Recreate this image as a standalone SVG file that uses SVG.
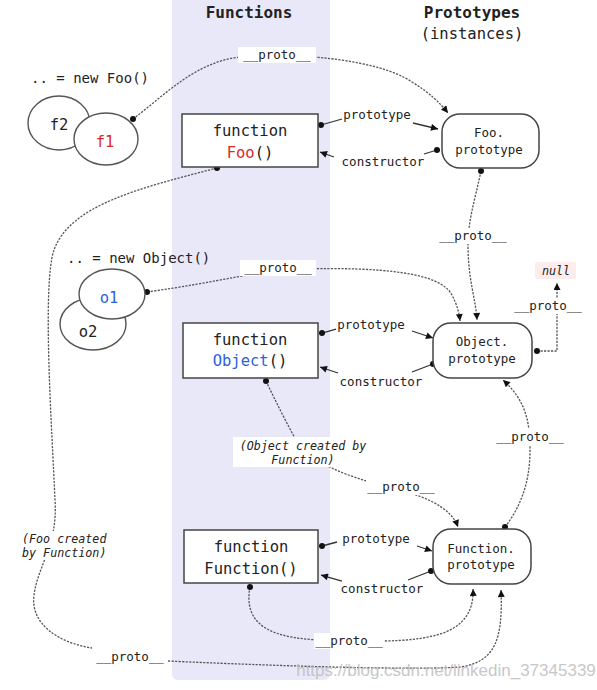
<svg xmlns="http://www.w3.org/2000/svg" width="597" height="690" viewBox="0 0 597 690">
<defs>
<marker id="arr" viewBox="0 0 10 10" refX="10" refY="5" markerWidth="9" markerHeight="7" orient="auto" markerUnits="userSpaceOnUse"><path d="M0,0 L10,5 L0,10 z" fill="#111"/></marker>
<marker id="dot" viewBox="0 0 6 6" refX="3" refY="3" markerWidth="6" markerHeight="6" markerUnits="userSpaceOnUse"><circle cx="3" cy="3" r="3" fill="#111"/></marker>
<style>
text{font-family:"DejaVu Sans Mono","Liberation Mono",monospace;fill:#222}
.hd{font-size:16px;font-weight:bold;text-anchor:middle}
.fn{font-size:15.5px;text-anchor:middle}
.pt{font-size:12.5px;text-anchor:middle}
.lb{font-size:12.5px;text-anchor:middle}
.it{font-size:11.7px;font-style:italic}
.box{fill:#fff;stroke:#444;stroke-width:1.5}
.ell{fill:#fff;stroke:#555;stroke-width:1.4}
.dash{fill:none;stroke:#555;stroke-width:1.3;stroke-dasharray:2.2 1.3}
.sol{fill:none;stroke:#333;stroke-width:1.3}
.bg{fill:#fff}
.red{fill:#e02828}
.blue{fill:#2f5fe0}
</style>
</defs>
<rect x="172" y="-10" width="158" height="690" rx="6" fill="#e8e8f9"/>
<text class="hd" x="249" y="18">Functions</text>
<text class="hd" x="472" y="18">Prototypes</text>
<text class="fn" x="472" y="39">(instances)</text>

<g id="connectors">
<path class="dash" d="M133,119 C165,95 195,62 240,57 C300,52 380,60 412,82 C430,93 440,103 448,113" marker-start="url(#dot)" marker-end="url(#arr)"/>
<path class="dash" d="M217,168 C140,188 70,205 54,250 C42,285 52,430 55,500 C58,545 38,565 34,595 C30,625 60,643 92,648" marker-start="url(#dot)"/>
<path class="dash" d="M168,661 C300,667 420,670 460,667 C495,662 503,640 501,590" marker-end="url(#arr)"/>
<path class="dash" d="M481,171 C475,200 468,220 468,245 C468,280 476,300 477,320" marker-start="url(#dot)" marker-end="url(#arr)"/>
<path class="dash" d="M147,292 C220,282 260,270 300,269 C380,267 440,272 452,295 C457,305 459,312 460,321" marker-start="url(#dot)" marker-end="url(#arr)"/>
<path class="dash" d="M537,351 L557,351 L557,283" marker-start="url(#dot)" marker-end="url(#arr)"/>
<path class="dash" d="M266,381 C276,402 286,422 296,440 C315,465 345,475 380,485 C420,494 450,505 458,527" marker-start="url(#dot)" marker-end="url(#arr)"/>
<path class="dash" d="M505,527 C522,505 530,480 530,450 C530,420 525,400 503,380" marker-start="url(#dot)" marker-end="url(#arr)"/>
<path class="dash" d="M250,587 C240,640 300,640 350,641 C420,642 475,640 473,589" marker-start="url(#dot)" marker-end="url(#arr)"/>

<path class="sol" d="M321,125 L342,119" marker-start="url(#dot)"/>
<path class="sol" d="M413,123 L438,129" marker-end="url(#arr)"/>
<path class="sol" d="M437,150 L424,154" marker-start="url(#dot)"/>
<path class="sol" d="M334,157 L320,152" marker-end="url(#arr)"/>
<path class="sol" d="M322,333 L336,329" marker-start="url(#dot)"/>
<path class="sol" d="M412,331 L433,338" marker-end="url(#arr)"/>
<path class="sol" d="M433,364 L412,372" marker-start="url(#dot)"/>
<path class="sol" d="M338,373 L320,367" marker-end="url(#arr)"/>
<path class="sol" d="M322,546 L337,542" marker-start="url(#dot)"/>
<path class="sol" d="M417,546 L432,551" marker-end="url(#arr)"/>
<path class="sol" d="M431,571 L408,580" marker-start="url(#dot)"/>
<path class="sol" d="M342,581 L321,575" marker-end="url(#arr)"/>

<rect class="bg" x="238" y="47" width="78" height="16"/>
<text class="lb" x="277" y="59">__proto__</text>
<rect class="bg" x="240" y="260" width="76" height="16"/>
<text class="lb" x="278" y="272">__proto__</text>
<rect class="bg" x="438" y="228" width="70" height="16"/>
<text class="lb" x="473" y="240">__proto__</text>
<rect class="bg" x="514" y="298" width="68" height="16"/>
<text class="lb" x="548" y="310">__proto__</text>
<rect class="bg" x="496" y="429" width="68" height="16"/>
<text class="lb" x="530" y="441">__proto__</text>
<rect class="bg" x="233" y="437" width="136" height="30"/>
<text class="it" x="303" y="450" text-anchor="middle">(Object created by</text>
<text class="it" x="303" y="464" text-anchor="middle">Function)</text>
<rect class="bg" x="366" y="479" width="70" height="16"/>
<text class="lb" x="401" y="491">__proto__</text>
<rect class="bg" x="314" y="633" width="70" height="16"/>
<text class="lb" x="349" y="645">__proto__</text>
<rect class="bg" x="95" y="649" width="70" height="16"/>
<text class="lb" x="130" y="661">__proto__</text>
<rect class="bg" x="20" y="531" width="92" height="28"/>
<text class="it" x="22" y="543">(Foo created</text>
<text class="it" x="22" y="557">by Function)</text>

<text class="pt" x="377" y="119">prototype</text>
<text class="pt" x="383" y="166">constructor</text>
<text class="pt" x="371" y="329">prototype</text>
<text class="pt" x="381" y="386">constructor</text>
<text class="pt" x="376" y="543">prototype</text>
<text class="pt" x="382" y="593">constructor</text>
</g>

<g id="null">
<rect x="535" y="262" width="41" height="17" rx="2" fill="#fcecec"/>
<text class="it" x="556" y="275" text-anchor="middle" font-size="12">null</text>
</g>

<g id="newFoo">
<text x="31" y="83" font-size="14">.. = new Foo()</text>
</g>
<g id="f2">
<ellipse class="ell" cx="59" cy="123" rx="31" ry="27"/>
<text class="fn" x="59" y="130">f2</text>
</g>
<g id="f1">
<ellipse class="ell" cx="106" cy="139" rx="32" ry="26"/>
<text class="fn red" x="105" y="147">f1</text>
</g>

<g id="newObject">
<text x="67" y="263" font-size="14">.. = new Object()</text>
</g>
<g id="o2">
<ellipse class="ell" cx="93" cy="324" rx="33" ry="26"/>
<text class="fn" x="88" y="337">o2</text>
</g>
<g id="o1">
<ellipse class="ell" cx="112" cy="294" rx="33" ry="25"/>
<text class="fn blue" x="109" y="303">o1</text>
</g>

<g id="Foo">
<rect class="box" x="182" y="114" width="136" height="53"/>
<text class="fn" x="250" y="136">function</text>
<text class="fn" x="250" y="158"><tspan class="red">Foo</tspan>()</text>
</g>
<g id="Object">
<rect class="box" x="183" y="323" width="135" height="55"/>
<text class="fn" x="250" y="345">function</text>
<text class="fn" x="250" y="366"><tspan class="blue">Object</tspan>()</text>
</g>
<g id="Function">
<rect class="box" x="184" y="530" width="134" height="53"/>
<text class="fn" x="251" y="552">function</text>
<text class="fn" x="251" y="574">Function()</text>
</g>

<g id="FooPrototype">
<rect class="box" x="442" y="114" width="97" height="54" rx="18"/>
<text class="pt" x="489" y="137">Foo.</text>
<text class="pt" x="489" y="154">prototype</text>
</g>
<g id="ObjectPrototype">
<rect class="box" x="433" y="323" width="99" height="55" rx="18"/>
<text class="pt" x="482" y="346">Object.</text>
<text class="pt" x="482" y="363">prototype</text>
</g>
<g id="FunctionPrototype">
<rect class="box" x="433" y="529" width="98" height="55" rx="18"/>
<text class="pt" x="481" y="553">Function.</text>
<text class="pt" x="481" y="569">prototype</text>
</g>

<text x="446" y="676" text-anchor="middle" font-size="17" style="font-family:'Liberation Sans',Arial,sans-serif;fill:#bbb;opacity:0.8">https://blog.csdn.net/linkedin_37345339</text>
</svg>
